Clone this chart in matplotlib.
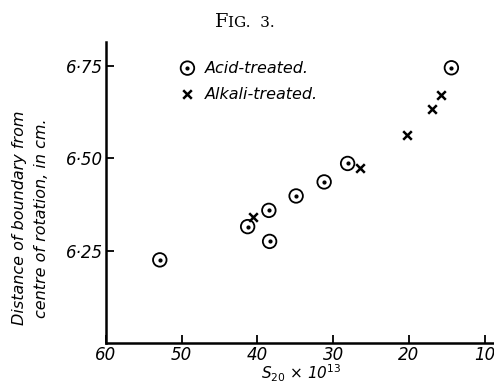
import matplotlib
matplotlib.use("Agg")
import matplotlib.pyplot as plt

# values
acid_s = [52.9, 41.3, 38.5, 38.4, 34.9, 31.2, 28.1, 14.4]
acid_d = [6.225, 6.315, 6.359, 6.275, 6.398, 6.436, 6.486, 6.745]
alkali_s = [40.6, 26.5, 20.3, 16.9, 15.8]
alkali_d = [6.342, 6.473, 6.563, 6.633, 6.670]
x_ticks = [60, 50, 40, 30, 20, 10]
y_ticks = [6.25, 6.50, 6.75]
y_labels = ["6·25", "6·50", "6·75"]

fig = plt.figure(figsize=(4.94, 3.86), dpi=100)
ax = fig.add_axes([0.2146, 0.1114, 0.785, 0.78])

ax.scatter(acid_s, acid_d, s=95, facecolors="none", edgecolors="black", linewidths=1.3, zorder=3)
ax.scatter(acid_s, acid_d, s=4, color="black", zorder=4)
ax.scatter(alkali_s, alkali_d, marker="x", s=38, color="black", linewidths=1.8, zorder=3)

ax.set_xlim(60, 8.8)
ax.set_ylim(6.0, 6.815)
ax.spines["top"].set_visible(False)
ax.spines["right"].set_visible(False)
ax.spines["left"].set_linewidth(1.8)
ax.spines["bottom"].set_linewidth(1.8)

ax.set_xticks(x_ticks)
ax.set_xticklabels([str(v) for v in x_ticks], fontstyle="italic", fontsize=12)
ax.set_yticks(y_ticks)
ax.set_yticklabels(y_labels, fontstyle="italic", fontsize=12)
ax.tick_params(direction="in", length=6, width=1.3, pad=2)

# legend drawn by hand like the original
ax.scatter([0.21], [0.913], transform=ax.transAxes, s=95, facecolors="none",
           edgecolors="black", linewidths=1.3, clip_on=False)
ax.scatter([0.21], [0.913], transform=ax.transAxes, s=4, color="black", clip_on=False)
ax.scatter([0.21], [0.827], transform=ax.transAxes, marker="x", s=38, color="black",
           linewidths=1.8, clip_on=False)
ax.text(0.255, 0.913, "Acid-treated.", transform=ax.transAxes, fontstyle="italic",
        fontsize=11.5, va="center")
ax.text(0.255, 0.827, "Alkali-treated.", transform=ax.transAxes, fontstyle="italic",
        fontsize=11.5, va="center")

# axis titles
fig.text(0.04, 0.435, "Distance of boundary from", rotation=90, fontstyle="italic",
         fontsize=11.5, ha="center", va="center")
fig.text(0.083, 0.435, "centre of rotation, in cm.", rotation=90, fontstyle="italic",
         fontsize=11.5, ha="center", va="center")
fig.text(0.61, 0.005, r"$S_{20}$ × 10$^{13}$", fontstyle="italic", fontsize=11,
         ha="center", va="bottom", math_fontfamily="dejavusans")

# small caps title
fig.text(0.462, 0.943, "F", family="DejaVu Serif", fontsize=14, ha="right", va="center")
fig.text(0.462, 0.94, "IG.  3.", family="DejaVu Serif", fontsize=11, ha="left", va="center")

fig.savefig("out.png", dpi=100)
